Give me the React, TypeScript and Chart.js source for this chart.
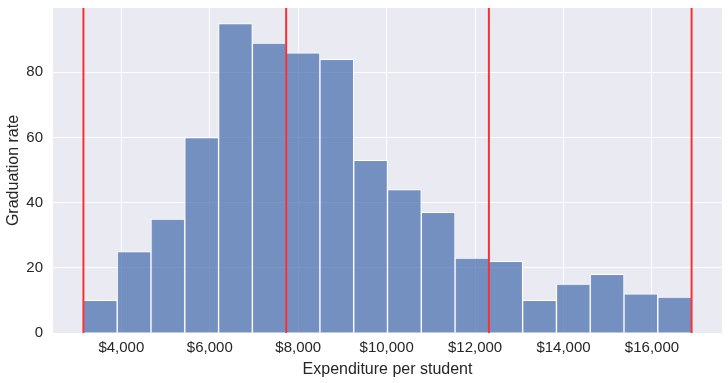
import React, { useEffect, useRef } from "react";
import { Chart, registerables } from "chart.js";

Chart.register(...registerables);

// Histogram counts per bin (18 equal-width bins between dataMin and dataMax)
const binCounts = [10, 25, 35, 60, 95, 89, 86, 84, 53, 44, 37, 23, 22, 10, 15, 18, 12, 11];
const dataMin = 3142;
const dataMax = 16896;
// Red reference lines (min, one third, two thirds, max)
const refLines = [3142, 7727, 12312, 16896];
const xTickValues = [4000, 6000, 8000, 10000, 12000, 14000, 16000];
const yTickValues = [0, 20, 40, 60, 80];
const xMin = 2454;
const xMax = 17584;
const yMax = 99.75;

const binWidth = (dataMax - dataMin) / binCounts.length;

export default function App() {
  const ref = useRef<HTMLCanvasElement | null>(null);
  useEffect(() => {
    document.body.style.margin = "0";
    const ctx = ref.current!;
    const barData = binCounts.map((c, i) => ({ x: dataMin + (i + 0.5) * binWidth, y: c }));
    const lineSets = refLines.map((v) => ({
      type: "line" as const,
      data: [
        { x: v, y: 0 },
        { x: v, y: yMax },
      ],
      borderColor: "rgba(255,0,0,0.8)",
      borderWidth: 2,
      pointRadius: 0,
      order: 1,
    }));
    const textColor = "#262626";
    const chart = new Chart(ctx, {
      type: "bar",
      data: {
        datasets: [
          {
            type: "bar",
            data: barData,
            backgroundColor: "rgba(76,114,176,0.75)",
            borderColor: "#ffffff",
            borderWidth: 1,
            barPercentage: 1,
            categoryPercentage: 1,
            order: 2,
          } as any,
          ...lineSets,
        ],
      },
      options: {
        animation: false,
        responsive: false,
        maintainAspectRatio: false,
        layout: { padding: { left: 0, right: 6, top: 8, bottom: 0 } },
        plugins: {
          legend: { display: false },
          tooltip: { enabled: false },
        },
        scales: {
          x: {
            type: "linear",
            min: xMin,
            max: xMax,
            offset: false,
            afterBuildTicks: (s: any) => {
              s.ticks = xTickValues.map((v) => ({ value: v }));
            },
            afterFit: (s: any) => {
              s.height = 50;
              s.paddingLeft = 0;
              s.paddingRight = 0;
            },
            grid: { color: "#ffffff", lineWidth: 1, drawTicks: false, offset: false },
            border: { display: false },
            ticks: {
              padding: 6,
              color: textColor,
              font: { family: "Liberation Sans, Arial, sans-serif", size: 15 },
              callback: (v: any) => "$" + Number(v).toLocaleString("en-US"),
              maxRotation: 0,
            },
            title: {
              display: true,
              text: "Expenditure per student",
              color: textColor,
              font: { family: "Liberation Sans, Arial, sans-serif", size: 16 },
              padding: { top: 4, bottom: 4 },
            },
          },
          y: {
            type: "linear",
            min: 0,
            max: yMax,
            afterBuildTicks: (s: any) => {
              s.ticks = yTickValues.map((v) => ({ value: v }));
            },
            afterFit: (s: any) => {
              s.width = 53;
              s.paddingTop = 0;
              s.paddingBottom = 0;
            },
            grid: { color: "#ffffff", lineWidth: 1, drawTicks: false },
            border: { display: false },
            ticks: {
              padding: 10,
              color: textColor,
              font: { family: "Liberation Sans, Arial, sans-serif", size: 15 },
            },
            title: {
              display: true,
              text: "Graduation rate",
              color: textColor,
              font: { family: "Liberation Sans, Arial, sans-serif", size: 16 },
              padding: { top: 4, bottom: 4 },
            },
          },
        },
      },
      plugins: [
        {
          id: "bg",
          beforeDraw: (c: any) => {
            const { ctx: g, chartArea: a } = c;
            g.save();
            g.fillStyle = "#EAEAF2";
            g.fillRect(a.left, a.top, a.right - a.left, a.bottom - a.top);
            g.restore();
          },
        },
      ],
    } as any);
    return () => chart.destroy();
  }, []);
  return (
    <div style={{ width: 728, height: 383, background: "#fff" }}>
      <canvas ref={ref} width={728} height={383} style={{ display: "block" }} />
    </div>
  );
}
